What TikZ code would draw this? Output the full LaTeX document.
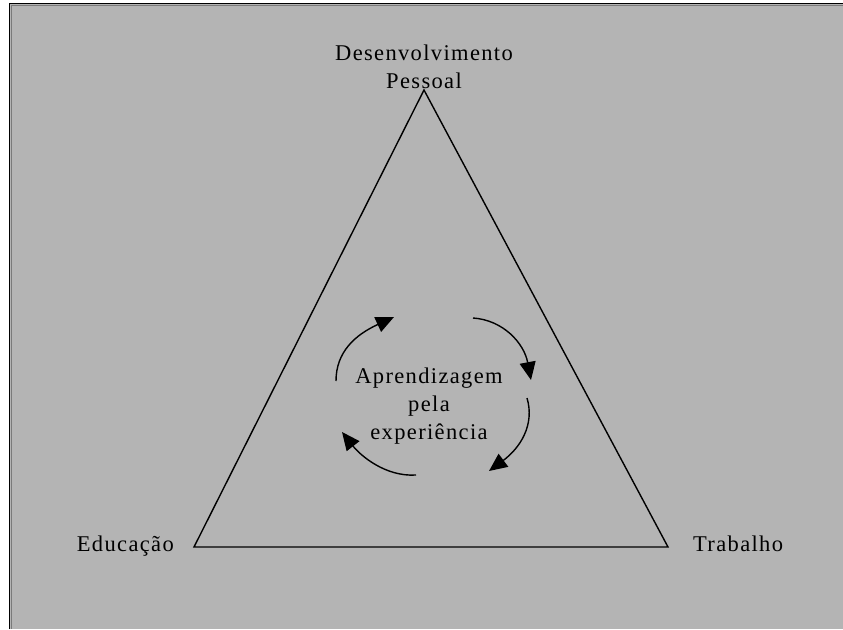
\documentclass[tikz,border=0pt]{standalone}
\usepackage{fontspec}
\setmainfont{Liberation Serif}[LetterSpace=6]
\usetikzlibrary{arrows.meta}
\definecolor{panel}{HTML}{B4B4B4}
\definecolor{panelshade}{HTML}{7A7A7A}
\tikzset{
  lbl/.style={font=\fontsize{22.5}{28}\selectfont, inner sep=0pt, align=center, text=black},
  edge/.style={line width=1.4pt, black},
  cyc/.style={line width=1.4pt, black, -{Triangle[length=18pt,width=16pt]}},
}
\begin{document}
\begin{tikzpicture}[x=1pt,y=-1pt]
  \useasboundingbox (0,0) rectangle (843,629);
  \fill[white] (0,0) rectangle (843,629);
  % framed grey panel
  \fill[panel] (9,3) rectangle (843,629);
  \draw[panelshade, line width=1.2pt] (11.5,629) -- (11.5,5.5) -- (843,5.5);
  \draw[black, line width=1.6pt] (9.5,629) -- (9.5,3.5) -- (843,3.5);

  % triangle corners
  \coordinate (top) at (424,90);
  \coordinate (bl) at (194,547);
  \coordinate (br) at (668,547);
  \draw[edge, line join=miter] (top) -- (br) -- (bl) -- cycle;

  % corner labels (base anchor sits on the last line)
  \node[lbl, anchor=base] (dev) at (424,88) {Desenvolvimento\\Pessoal};
  \node[lbl, anchor=base east] (edu) at (174,551) {Educação};
  \node[lbl, anchor=base west] (trab) at (693,551) {Trabalho};

  % centre label
  \node[lbl, anchor=base] (apr) at (429,439) {Aprendizagem\\pela\\experiência};

  % cycle arrow end points
  \coordinate (a1s) at (336,381);
  \coordinate (a1e) at (394,317);
  \coordinate (a2s) at (473,318);
  \coordinate (a2e) at (531,380);
  \coordinate (a3s) at (527,398);
  \coordinate (a3e) at (489,471);
  \coordinate (a4s) at (416,475);
  \coordinate (a4e) at (342,432);

  \draw[cyc] (a1s) .. controls (336,352) and (355,335) .. (a1e);
  \draw[cyc] (a2s) .. controls (503,320) and (524,343) .. (a2e);
  \draw[cyc] (a3s) .. controls (535,425) and (520,448) .. (a3e);
  \draw[cyc] (a4s) .. controls (385,477) and (360,455) .. (a4e);
\end{tikzpicture}
\end{document}
